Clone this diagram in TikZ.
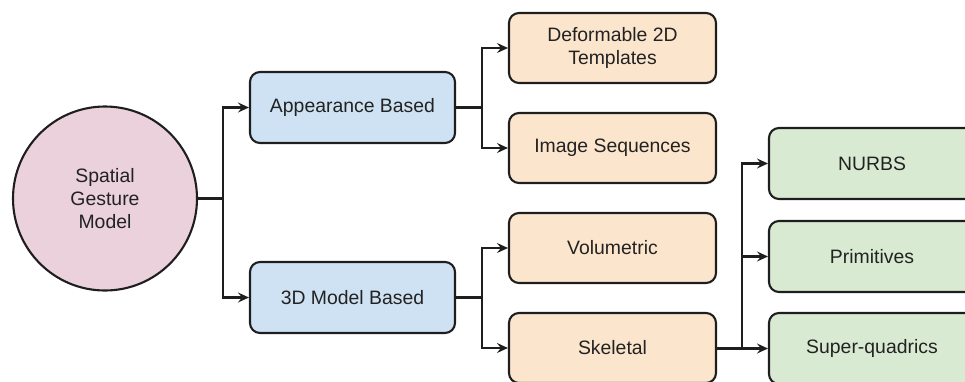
\documentclass[tikz,border=0pt]{standalone}
\usepackage{fontspec}
\setmainfont{Liberation Sans}
\usetikzlibrary{arrows.meta}
\definecolor{pinkfill}{HTML}{EAD1DC}
\definecolor{bluefill}{HTML}{CFE2F3}
\definecolor{orangefill}{HTML}{FCE5CD}
\definecolor{greenfill}{HTML}{D9EAD3}
\definecolor{edge}{HTML}{1E1E1E}
\definecolor{ink}{HTML}{222222}
\tikzset{
  basebox/.style={draw=edge, line width=2.1pt, rounded corners=10pt, inner sep=0pt,
    text=ink, align=center, font=\fontsize{19.4}{23}\selectfont},
  bluebox/.style={basebox, fill=bluefill, minimum width=205pt, minimum height=71pt},
  orangebox/.style={basebox, fill=orangefill, minimum width=207pt, minimum height=70pt},
  greenbox/.style={basebox, fill=greenfill, minimum width=206pt, minimum height=71pt},
  rootcircle/.style={draw=edge, line width=2.1pt, circle, fill=pinkfill, minimum size=184pt,
    inner sep=0pt, text=ink, align=center, font=\fontsize{19.4}{23}\selectfont},
  link/.style={draw=edge, line width=2.3pt},
  linkarrow/.style={link, -{Stealth[length=11pt, width=10pt, inset=4pt]}}
}
\begin{document}
\begin{tikzpicture}[x=1pt, y=-1pt]
  \useasboundingbox (0,0) rectangle (965,381);
  \begin{scope}
    \clip (0,0) rectangle (965,381);

    % root of the taxonomy
    \node[rootcircle] (sgm) at (105,198.5) {Spatial\\Gesture\\Model};

    % first level
    \node[bluebox] (app) at (352.5,107.5) {Appearance Based};
    \node[bluebox] (tdm) at (352.5,297.5) {3D Model Based};

    % second level
    \node[orangebox] (def) at (612.5,48) {Deformable 2D\\Templates};
    \node[orangebox] (img) at (612.5,148) {Image Sequences};
    \node[orangebox] (vol) at (612.5,248) {Volumetric};
    \node[orangebox] (ske) at (612.5,348) {Skeletal};

    % third level
    \node[greenbox] (nurbs) at (872,163.5) {NURBS};
    \node[greenbox] (prim) at (872,256.5) {Primitives};
    \node[greenbox] (sq) at (872,348.5) {Super-quadrics};

    % branch points
    \coordinate (j1) at (223,198.5);
    \coordinate (j2) at (482,107.5);
    \coordinate (j3) at (482,297.5);
    \coordinate (j4) at (742,348);

    % connectors
    \draw[link] (sgm.east) -- (j1);
    \draw[linkarrow] (j1) |- (app.west);
    \draw[linkarrow] (j1) |- (tdm.west);

    \draw[link] (app.east) -- (j2);
    \draw[linkarrow] (j2) |- (def.west);
    \draw[linkarrow] (j2) |- (img.west);

    \draw[link] (tdm.east) -- (j3);
    \draw[linkarrow] (j3) |- (vol.west);
    \draw[linkarrow] (j3) |- (ske.west);

    \draw[link, line width=3pt] (ske.east) -- (j4);
    \draw[linkarrow] (j4) |- (nurbs.west);
    \draw[linkarrow] (j4) |- (prim.west);
    \draw[linkarrow] (j4) |- (sq.west);
  \end{scope}
\end{tikzpicture}
\end{document}
